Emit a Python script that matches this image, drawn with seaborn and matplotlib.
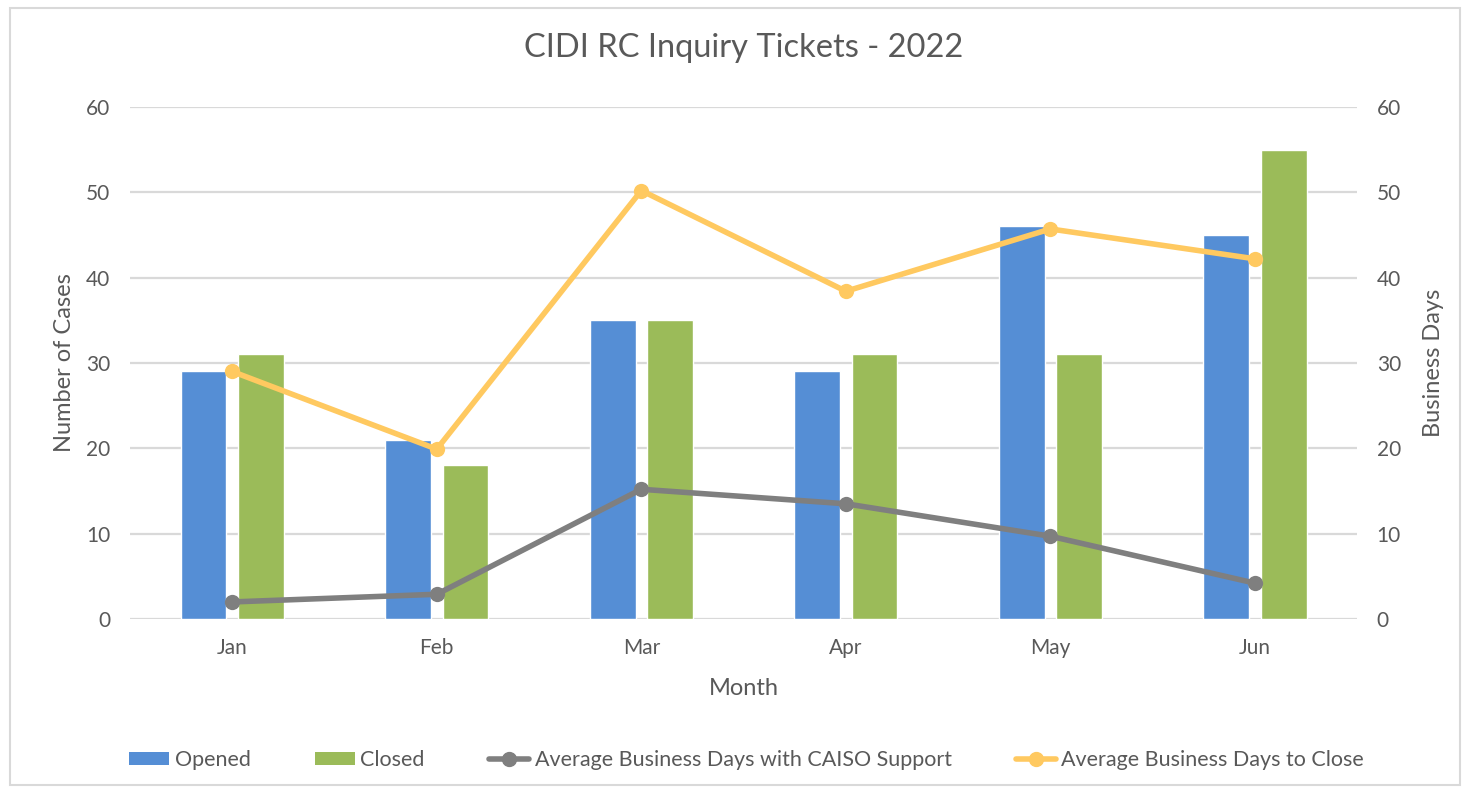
import matplotlib
matplotlib.use("Agg")
import matplotlib.pyplot as plt
import seaborn as sns
import pandas as pd
from matplotlib.patches import Rectangle
from matplotlib.lines import Line2D
from matplotlib.patches import Patch

months = ["Jan", "Feb", "Mar", "Apr", "May", "Jun"]
opened = [29, 21, 35, 29, 46, 45]
closed = [31, 18, 35, 31, 31, 55]
days_caiso = [2.0, 2.9, 15.2, 13.5, 9.7, 4.2]
days_close = [29.0, 19.9, 50.2, 38.4, 45.7, 42.2]
yticks = [0, 10, 20, 30, 40, 50, 60]

blue = "#558ED5"
green = "#9BBB59"
gray = "#7F7F7F"
yellow = "#FFC960"
txt = "#595959"
grid = "#D9D9D9"

sns.set_theme(style="white")
plt.rcParams["font.family"] = ["Lato", "DejaVu Sans"]

fig = plt.figure(figsize=(14.7, 7.93), dpi=100)
ax = fig.add_axes([0.0884, 0.2194, 0.8349, 0.6458])

df = pd.DataFrame({
    "Month": months * 2,
    "Cases": opened + closed,
    "Status": ["Opened"] * 6 + ["Closed"] * 6,
})
sns.barplot(data=df, x="Month", y="Cases", hue="Status", order=months,
            hue_order=["Opened", "Closed"], palette=[blue, green],
            width=0.56, gap=0.2, ax=ax, legend=False, saturation=1, zorder=2)

ax.set_xlim(-0.5, 5.5)
ax.set_ylim(0, 60)
ax.set_yticks(yticks)
ax.yaxis.grid(True, color=grid, linewidth=1.6, zorder=0)
ax.set_axisbelow(True)
for s in ax.spines.values():
    s.set_visible(False)
ax.tick_params(axis="both", length=0, labelsize=15, labelcolor=txt, pad=14)
ax.set_xlabel("Month", fontsize=17, color=txt, labelpad=14)
ax.set_ylabel("Number of Cases", fontsize=17, color=txt, labelpad=8)

ax2 = ax.twinx()
sns.lineplot(x=months, y=days_caiso, ax=ax2, color=gray, linewidth=4,
             marker="o", markersize=11, markeredgewidth=0, zorder=3)
sns.lineplot(x=months, y=days_close, ax=ax2, color=yellow, linewidth=4,
             marker="o", markersize=11, markeredgewidth=0, zorder=3)
ax2.set_xlim(-0.5, 5.5)
ax2.set_ylim(0, 60)
ax2.set_yticks(yticks)
for s in ax2.spines.values():
    s.set_visible(False)
ax2.tick_params(axis="y", length=0, labelsize=15, labelcolor=txt, pad=14)
ax2.set_ylabel("Business Days", fontsize=17, color=txt, labelpad=16)
ax2.grid(False)

fig.suptitle("CIDI RC Inquiry Tickets - 2022", x=0.506, y=0.958,
             fontsize=23.5, color=txt)

handles = [
    Patch(facecolor=blue, edgecolor="none"),
    Patch(facecolor=green, edgecolor="none"),
    Line2D([], [], color=gray, linewidth=4, marker="o", markersize=10),
    Line2D([], [], color=yellow, linewidth=4, marker="o", markersize=10),
]
labels = ["Opened", "Closed", "Average Business Days with CAISO Support",
          "Average Business Days to Close"]
leg = fig.legend(handles, labels, loc="center", bbox_to_anchor=(0.508, 0.042),
                 ncol=4, frameon=False, fontsize=15.5, handlelength=1.85,
                 handleheight=0.55, handletextpad=0.25, columnspacing=3.0)
for t in leg.get_texts():
    t.set_color(txt)

fig.patches.append(Rectangle((0.007, 0.01), 0.986, 0.98, transform=fig.transFigure,
                             fill=False, edgecolor="#D9D9D9", linewidth=1.5))

fig.savefig("out.png", dpi=100)
